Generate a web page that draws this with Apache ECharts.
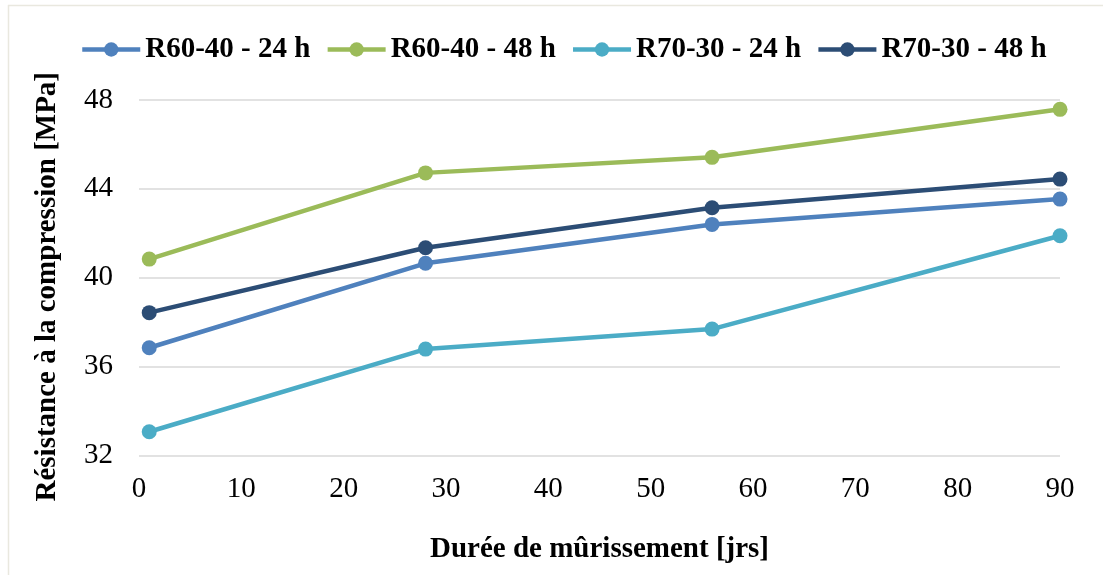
<!DOCTYPE html>
<html>
<head>
<meta charset="utf-8">
<script src="https://cdn.jsdelivr.net/npm/echarts@6/dist/echarts.min.js"></script>
<style>
  html, body { margin: 0; padding: 0; background: #ffffff; }
  #chart { width: 1103px; height: 575px; }
</style>
</head>
<body>
<div id="chart"></div>
<script>
// Curing time (days) and compressive strength (MPa) per mix / steam duration
const days = [1, 28, 56, 90];
const seriesNames = ['R60-40 - 24 h', 'R60-40 - 48 h', 'R70-30 - 24 h', 'R70-30 - 48 h'];
const r6040_24h = [36.85, 40.65, 42.4, 43.54];
const r6040_48h = [40.84, 44.72, 45.42, 47.58];
const r7030_24h = [33.07, 36.79, 37.69, 41.89];
const r7030_48h = [38.43, 41.35, 43.15, 44.44];
const colors = ['#4f81bd', '#9bbb59', '#4bacc6', '#2c4d75'];

const values = [r6040_24h, r6040_48h, r7030_24h, r7030_48h];
const serif = '"Liberation Serif", "Times New Roman", serif';

const chart = echarts.init(document.getElementById('chart'), null, { renderer: 'canvas' });

chart.setOption({
  animation: false,
  backgroundColor: '#ffffff',
  color: colors,
  graphic: [
    { type: 'line', shape: { x1: 8, y1: 5.5, x2: 1103, y2: 5.5 }, style: { stroke: '#e9e8df', lineWidth: 1.5 } },
    { type: 'line', shape: { x1: 8.5, y1: 5, x2: 8.5, y2: 575 }, style: { stroke: '#e9e8df', lineWidth: 1.5 } }
  ],
  legend: {
    top: 30,
    left: 75,
    itemWidth: 58,
    itemHeight: 18,
    itemGap: 15,
    lineStyle: { width: 4.5 },
    textStyle: { fontFamily: serif, fontWeight: 'bold', fontSize: 29, color: '#000000' },
    data: seriesNames
  },
  grid: { left: 139, right: 43, top: 100, bottom: 119.5 },
  xAxis: {
    type: 'value',
    min: 0,
    max: 90,
    interval: 10,
    name: 'Durée de mûrissement [jrs]',
    nameLocation: 'middle',
    nameGap: 80,
    nameTextStyle: { fontFamily: serif, fontWeight: 'bold', fontSize: 29, color: '#000000' },
    axisLine: { show: false },
    axisTick: { show: false },
    splitLine: { show: false },
    axisLabel: { margin: 19, fontFamily: serif, fontSize: 29, color: '#000000' }
  },
  yAxis: {
    type: 'value',
    min: 32,
    max: 48,
    interval: 4,
    name: 'Résistance à la compression [MPa]',
    nameLocation: 'middle',
    nameGap: 77,
    nameTextStyle: { fontFamily: serif, fontWeight: 'bold', fontSize: 29, color: '#000000', padding: [0, 18, 0, 0] },
    axisLine: { show: false },
    axisTick: { show: false },
    splitLine: { show: true, lineStyle: { color: '#d9d9d9', width: 1.5 } },
    axisLabel: { margin: 26, fontFamily: serif, fontSize: 29, color: '#000000' }
  },
  series: seriesNames.map((name, i) => ({
    name: name,
    type: 'line',
    data: days.map((d, j) => [d, values[i][j]]),
    symbol: 'circle',
    symbolSize: 15,
    lineStyle: { width: 4.5, color: colors[i] },
    itemStyle: { color: colors[i] },
    z: 2 + i
  }))
});
</script>
</body>
</html>
